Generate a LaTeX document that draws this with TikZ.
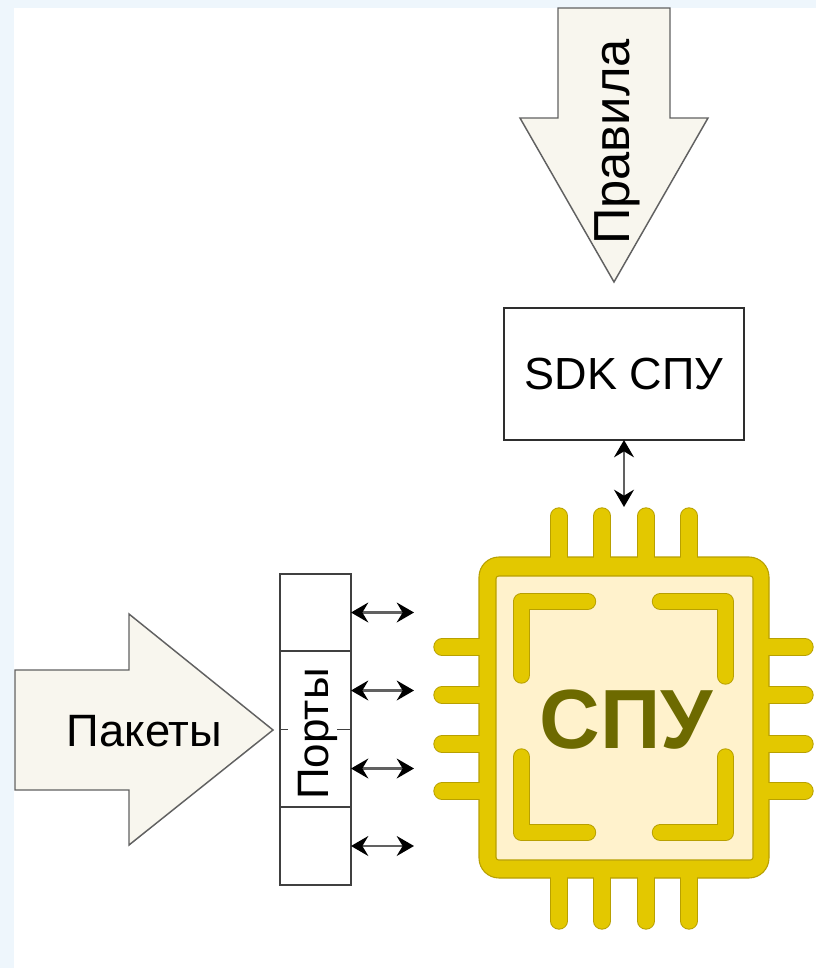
\documentclass[tikz,border=0pt]{standalone}
\usepackage{fontspec}
\setmainfont{Liberation Sans}
\usetikzlibrary{arrows.meta}
\definecolor{arrowfill}{HTML}{F8F6EE}
\definecolor{chipedge}{HTML}{B8A000}
\definecolor{chipgold}{HTML}{E3C800}
\definecolor{chipface}{HTML}{FFF2CC}
\definecolor{chiptext}{HTML}{6D6A00}
\definecolor{glow}{HTML}{EEF6FC}
\tikzset{
  px/.style={x=0.75pt,y=-0.75pt},
  bigarrow/.style={draw=black!62,line width=1.1pt,fill=arrowfill,line join=miter},
  cell/.style={draw=black!75,line width=1.4pt,fill=white,minimum width=53.25pt,inner sep=0pt,outer sep=0pt},
  sdkbox/.style={draw=black!82,line width=1.1pt,fill=white,minimum width=180pt,minimum height=99pt,inner sep=0pt,outer sep=0pt},
  link/.style={draw=black!62,line width=1.6pt,{Stealth[length=13pt,width=15pt,inset=4.5pt,color=black]}-{Stealth[length=13pt,width=15pt,inset=4.5pt,color=black]}},
  lbl/.style={inner sep=0pt,text=black},
  chiplineO/.style={draw=chipedge,line width=13pt,line cap=round,line join=round},
  chiplineI/.style={draw=chipgold,line width=11.6pt,line cap=round,line join=round},
}
\newcommand{\chippins}[1]{%
  \foreach \px in {559,602,646,689} {
    \draw[#1] (\px,516) -- (\px,562);
    \draw[#1] (\px,872) -- (\px,921);
  }
  \foreach \py in {647,695,744,791} {
    \draw[#1] (442,\py) -- (485,\py);
    \draw[#1] (763,\py) -- (805,\py);
  }
}
\newcommand{\chipcorners}[1]{%
  \draw[#1] (521.5,675) -- (521.5,601.5) -- (587.5,601.5);
  \draw[#1] (660.5,601.5) -- (725.5,601.5) -- (725.5,676);
  \draw[#1] (521.5,757) -- (521.5,832.5) -- (587.5,832.5);
  \draw[#1] (660.5,832.5) -- (725.5,832.5) -- (725.5,757);
}
\begin{document}
\begin{tikzpicture}[px]
\useasboundingbox (0,0) rectangle (816,968);
\fill[glow] (0,0) rectangle (816,968);
\fill[white] (14,8) rectangle (816,968);
% Rules arrow
\path[bigarrow] (558,8) -- (670,8) -- (670,118) -- (708,118) -- (614,282) -- (520,118) -- (558,118) -- cycle;
\node[lbl,rotate=90,font=\fontsize{38}{38}\selectfont] (rules) at (617,142) {Правила};
% SDK
\node[sdkbox,font=\fontsize{33.75}{34}\selectfont] (sdk) at (624,374) {SDK СПУ};
% Packets arrow
\path[bigarrow] (15,670) -- (129,670) -- (129,614) -- (273,730) -- (129,845) -- (129,790) -- (15,790) -- cycle;
\node[lbl,font=\fontsize{34}{34}\selectfont] (packets) at (144.5,731) {Пакеты};
% Ports
\node[cell,minimum height=58pt] (p1) at (315.5,612.5) {};
\node[cell,minimum height=58.5pt] (p2) at (315.5,690.5) {};
\node[cell,minimum height=58.5pt] (p3) at (315.5,768.5) {};
\node[cell,minimum height=58pt] (p4) at (315.5,846) {};
\node[fill=white,inner sep=0pt,minimum width=36.5pt,minimum height=104pt] (portsbg) at (312.5,733) {};
\node[lbl,rotate=90,font=\fontsize{33}{33}\selectfont] (ports) at (317.5,734) {Порты};
% Chip
\chippins{chiplineO}
\path[fill=chipgold,draw=chipedge,line width=0.8pt,rounded corners=15pt] (479,557) rectangle (769,878);
\path[fill=chipface,draw=chipedge,line width=0.8pt,rounded corners=2pt] (496,576) rectangle (753,860);
\chippins{chiplineI}
\chipcorners{chiplineO}
\chipcorners{chiplineI}
\node[inner sep=0pt,text=chiptext,font=\bfseries\fontsize{63}{63}\selectfont] (chip) at (626,720) {СПУ};
% Connectors
\coordinate (e1) at (414,612.5);
\coordinate (e2) at (414,690.5);
\coordinate (e3) at (414,768.5);
\coordinate (e4) at (414,846);
\coordinate (top) at (624,507);
\draw[link] (p1.east) -- (e1);
\draw[link] (p2.east) -- (e2);
\draw[link] (p3.east) -- (e3);
\draw[link] (p4.east) -- (e4);
\draw[link] (sdk.south) -- (top);
\end{tikzpicture}
\end{document}
